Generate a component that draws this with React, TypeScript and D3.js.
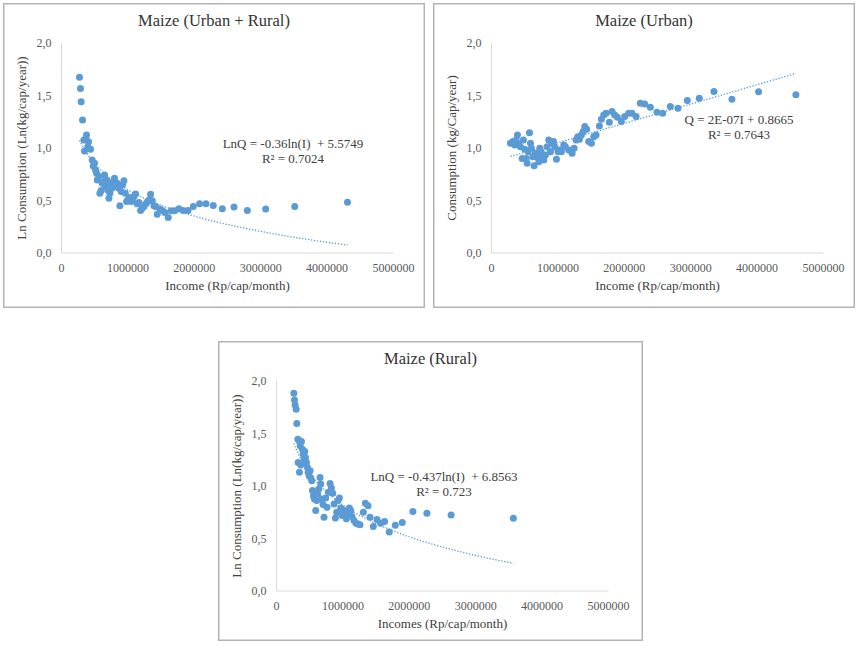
import React from 'react'
import * as d3 from 'd3'

// income (Rp/cap/month) and consumption
const allIncome = [
  271000, 286000, 296000, 317000, 337000, 377000, 347000, 397000, 437000, 407000,
  367000, 462000, 477000, 497000, 513000, 528000, 538000, 563000, 578000, 598000,
  613000, 638000, 648000, 663000, 678000, 698000, 714000, 729000, 739000, 759000,
  779000, 799000, 814000, 839000, 864000, 879000, 899000, 920000, 940000, 960000,
  980000, 1000000, 1020000, 1050000, 1070000, 1090000, 1116000, 1141000, 1166000, 1191000,
  1216000, 1241000, 1271000, 1296000, 1322000, 1342000, 1367000, 1392000, 1417000, 1442000,
  1482000, 1518000, 1558000, 1608000, 1653000, 1704000, 1769000, 1834000, 1905000, 1985000,
  2080000, 2176000, 2286000, 2422000, 2598000, 2799000, 3075000, 3513000, 4307000,
]
const allLnQ = [
  1.674, 1.566, 1.44, 1.266, 1.076, 1.123, 0.971, 1.013, 0.987, 1.06,
  1.082, 0.886, 0.829, 0.854, 0.791, 0.76, 0.696, 0.728, 0.57, 0.595,
  0.665, 0.68, 0.744, 0.633, 0.696, 0.601, 0.522, 0.57, 0.649, 0.617,
  0.68, 0.712, 0.633, 0.665, 0.617, 0.449, 0.585, 0.649, 0.687, 0.57,
  0.49, 0.506, 0.528, 0.49, 0.513, 0.538, 0.563, 0.468, 0.481, 0.405,
  0.427, 0.443, 0.468, 0.49, 0.506, 0.56, 0.497, 0.449, 0.443, 0.37,
  0.418, 0.405, 0.386, 0.339, 0.402, 0.402, 0.421, 0.405, 0.405, 0.443,
  0.468, 0.468, 0.453, 0.421, 0.437, 0.405, 0.418, 0.443, 0.484,
]

const urbanIncome = [
  286000, 321000, 351000, 371000, 391000, 411000, 436000, 461000, 481000, 501000,
  522000, 537000, 552000, 572000, 587000, 602000, 622000, 642000, 662000, 687000,
  712000, 727000, 747000, 772000, 787000, 812000, 837000, 863000, 888000, 913000,
  933000, 953000, 978000, 1003000, 1028000, 1053000, 1088000, 1113000, 1163000, 1214000,
  1244000, 1274000, 1299000, 1324000, 1354000, 1379000, 1404000, 1434000, 1464000, 1505000,
  1540000, 1575000, 1625000, 1655000, 1690000, 1725000, 1775000, 1815000, 1855000, 1896000,
  1956000, 2006000, 2066000, 2116000, 2177000, 2242000, 2307000, 2392000, 2492000, 2578000,
  2693000, 2808000, 2949000, 3129000, 3350000, 3621000, 4022000, 4584000,
]
const urbanQ = [
  1.045, 1.061, 1.029, 1.076, 1.124, 1.038, 1.013, 0.901, 1.076, 0.987,
  0.901, 0.854, 0.965, 1.146, 1.045, 0.997, 0.917, 0.831, 0.949, 0.917,
  0.869, 0.997, 0.965, 0.917, 0.885, 0.933, 1.013, 1.076, 0.965, 1.045,
  1.061, 1.013, 0.892, 0.965, 0.981, 0.965, 1.029, 1.013, 0.981, 0.949,
  0.997, 1.076, 1.108, 1.083, 1.124, 1.156, 1.204, 1.178, 1.061, 1.045,
  1.108, 1.124, 1.21, 1.274, 1.315, 1.331, 1.245, 1.347, 1.315, 1.293,
  1.252, 1.299, 1.331, 1.331, 1.299, 1.427, 1.42, 1.389, 1.341, 1.331,
  1.395, 1.379, 1.452, 1.475, 1.538, 1.465, 1.535, 1.506,
]

const ruralIncome = [
  261000, 271000, 281000, 296000, 306000, 321000, 341000, 326000, 346000, 366000,
  356000, 376000, 391000, 401000, 416000, 426000, 436000, 451000, 466000, 476000,
  491000, 506000, 516000, 531000, 541000, 556000, 571000, 591000, 606000, 621000,
  636000, 656000, 666000, 681000, 701000, 716000, 741000, 761000, 782000, 807000,
  827000, 847000, 867000, 887000, 907000, 927000, 947000, 967000, 987000, 1007000,
  1027000, 1052000, 1077000, 1097000, 1117000, 1137000, 1167000, 1197000, 1227000, 1257000,
  1308000, 1338000, 1378000, 1408000, 1458000, 1513000, 1568000, 1628000, 1698000, 1789000,
  1894000, 2054000, 2265000, 2630000, 3567000,
]
const ruralLnQ = [
  1.883, 1.82, 1.772, 1.731, 1.595, 1.446, 1.43, 1.225, 1.13, 1.199,
  1.383, 1.424, 1.351, 1.304, 1.256, 1.329, 1.272, 1.225, 1.177, 1.13,
  1.098, 1.146, 1.076, 1.051, 0.956, 0.908, 0.877, 0.766, 0.861, 0.924,
  0.972, 1.082, 1.019, 0.877, 0.823, 0.703, 0.886, 0.797, 0.94, 1.025,
  0.981, 0.93, 0.829, 0.696, 0.75, 0.861, 0.886, 0.791, 0.718, 0.772,
  0.75, 0.687, 0.734, 0.791, 0.766, 0.709, 0.671, 0.646, 0.639, 0.63,
  0.75, 0.835, 0.813, 0.703, 0.614, 0.68, 0.646, 0.661, 0.563, 0.627,
  0.652, 0.756, 0.741, 0.725, 0.693,
]

const yTicks = [0, 0.5, 1, 1.5, 2]
const xTicks = [0, 1000000, 2000000, 3000000, 4000000, 5000000]

const blue = '#5b9bd5'
const serif = "'Liberation Serif', 'DejaVu Serif', serif"

const W = 422
const H = 305
const m = { left: 58.5, right: 32, top: 40, bottom: 55 }

const fmtY = (v: number) => d3.format('.1f')(v).replace('.', ',')

function Panel({ x0, y0, w, h, title, xTitle, yTitle, xs, ys, trend, eq, r2, eqX, eqY }: any) {
  const x = d3.scaleLinear().domain([0, 5000000]).range([m.left, m.left + 332])
  const y = d3.scaleLinear().domain([0, 2]).range([250, 40])
  const lo = d3.min(xs) as number
  const hi = d3.max(xs) as number
  const trendPts = d3.range(0, 81).map(i => lo + (hi - lo) * i / 80)
  const line = d3.line<number>().x(d => x(d)).y(d => y(trend(d)))
  const txt = { fontFamily: serif, whiteSpace: 'pre' as const }
  return (
    <g transform={`translate(${x0},${y0})`}>
      <rect x={0.75} y={0.75} width={w - 1.5} height={h - 1.5} fill="#fff" stroke="#b3b3b3" strokeWidth={1.5} />
      <text x={w / 2} y={23} textAnchor="middle" fontSize={16.5} fill="#333" style={txt}>{title}</text>
      <line x1={x(0)} x2={x(0)} y1={y(2)} y2={y(0)} stroke="#d9d9d9" />
      <line x1={x(0)} x2={x(5000000)} y1={y(0)} y2={y(0)} stroke="#d9d9d9" />
      {yTicks.map(t => (
        <text key={t} x={x(0) - 10} y={y(t) + 4} textAnchor="end" fontSize={12} fill="#595959" style={txt}>{fmtY(t)}</text>
      ))}
      {xTicks.map(t => (
        <text key={t} x={x(t)} y={269} textAnchor="middle" fontSize={12} fill="#595959" style={txt}>{t}</text>
      ))}
      <text x={(m.left + m.left + 332) / 2} y={287} textAnchor="middle" fontSize={13} fill="#404040" style={txt}>{xTitle}</text>
      <text transform={`translate(23,145) rotate(-90)`} textAnchor="middle" fontSize={13} fill="#404040" style={txt}>{yTitle}</text>
      {xs.map((v: number, i: number) => (
        <circle key={i} cx={x(v)} cy={y(ys[i])} r={3.5} fill={blue} />
      ))}
      <path d={line(trendPts) || ''} fill="none" stroke={blue} strokeWidth={1.3} strokeDasharray="1.3 1.7" />
      <text x={eqX} y={eqY} textAnchor="middle" fontSize={13} fill="#404040" style={txt}>{eq}</text>
      <text x={eqX} y={eqY + 15} textAnchor="middle" fontSize={13} fill="#404040" style={txt}>{r2}</text>
    </g>
  )
}

export default function App() {
  return (
    <svg width={859} height={646} style={{ position: 'absolute', left: 0, top: 0, background: '#fff' }}>
      <Panel x0={3} y0={3} w={W} h={H} title="Maize (Urban + Rural)"
        xTitle="Income (Rp/cap/month)" yTitle="Ln Consumption (Ln(kg/cap/year))"
        xs={allIncome} ys={allLnQ} trend={(v: number) => -0.36 * Math.log(v) + 5.5749}
        eq={'LnQ = -0.36ln(I)  + 5.5749'} r2="R² = 0.7024" eqX={290} eqY={144.5} />
      <Panel x0={433} y0={3} w={W} h={H} title="Maize (Urban)"
        xTitle="Income (Rp/cap/month)" yTitle="Consumption (kg/Cap/year)"
        xs={urbanIncome} ys={urbanQ} trend={(v: number) => 1.84e-7 * v + 0.8665}
        eq="Q = 2E-07I + 0.8665" r2="R² = 0.7643" eqX={306} eqY={120.5} />
      <Panel x0={218} y0={341} w={425} h={300} title="Maize (Rural)"
        xTitle="Incomes (Rp/cap/month)" yTitle="Ln Consumption (Ln(kg/cap/year))"
        xs={ruralIncome} ys={ruralLnQ} trend={(v: number) => -0.437 * Math.log(v) + 6.8563}
        eq={'LnQ = -0.437ln(I)  + 6.8563'} r2="R² = 0.723" eqX={226} eqY={140} />
    </svg>
  )
}
